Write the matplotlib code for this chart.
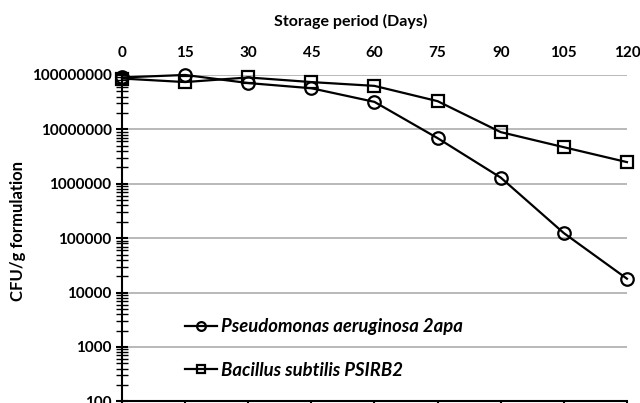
import matplotlib
matplotlib.use("Agg")
import matplotlib.pyplot as plt
import matplotlib.ticker as ticker

plt.rcParams['font.family'] = ['Lato', 'DejaVu Sans']

# storage period (days) and CFU counts
days = [0, 15, 30, 45, 60, 75, 90, 105, 120]
pseudomonas = [9.0e7, 1.0e8, 7.1e7, 5.7e7, 3.2e7, 6.9e6, 1.3e6, 1.24e5, 1.8e4]
bacillus = [8.6e7, 7.4e7, 9.0e7, 7.4e7, 6.3e7, 3.3e7, 8.9e6, 4.7e6, 2.5e6]
series_names = ["Pseudomonas aeruginosa 2apa", "Bacillus subtilis PSIRB2"]
x_ticks = [0, 15, 30, 45, 60, 75, 90, 105, 120]
y_ticks = [1e2, 1e3, 1e4, 1e5, 1e6, 1e7, 1e8]

fig = plt.figure(figsize=(6.4, 4.03), dpi=100)
ax = fig.add_axes([0.1906, 0.004, 0.789, 0.810])

#gray horizontal gridlines at each decade
ax.set_yscale('log')
ax.set_ylim(100, 1e8)
ax.set_xlim(0, 120)
ax.yaxis.grid(True, which='major', color='#a6a6a6', linewidth=1.1)
ax.set_axisbelow(True)

ax.plot(days, pseudomonas, color='black', linewidth=1.6, marker='o', markersize=9,
        markerfacecolor='none', markeredgewidth=1.6, label=series_names[0], clip_on=False, zorder=3)
ax.plot(days, bacillus, color='black', linewidth=1.6, marker='s', markersize=9,
        markerfacecolor='none', markeredgewidth=1.6, label=series_names[1], clip_on=False, zorder=3)

#y axis with plain integer labels
ax.set_yticks(y_ticks)
ax.yaxis.set_major_formatter(ticker.FuncFormatter(lambda v, p: '%d' % round(v)))
ax.yaxis.set_minor_locator(ticker.LogLocator(base=10, subs=range(2, 10)))
ax.yaxis.set_minor_formatter(ticker.NullFormatter())
ax.tick_params(axis='y', which='major', direction='inout', length=9, width=1.5, pad=3,
               labelsize=11, colors='black')
ax.tick_params(axis='y', which='minor', direction='inout', length=8, width=1.0)
for lab in ax.get_yticklabels():
    lab.set_fontweight('bold')

#x tick labels on top, bottom spine keeps the tick marks
ax.set_xticks(x_ticks)
ax.tick_params(axis='x', which='both', bottom=True, top=False, labelbottom=False, labeltop=True,
               direction='out', length=8, width=1.5, pad=3, labelsize=11)
for lab in ax.get_xticklabels():
    lab.set_fontweight('bold')

ax.spines['top'].set_visible(False)
ax.spines['right'].set_visible(False)
ax.spines['left'].set_linewidth(1.5)
ax.spines['bottom'].set_linewidth(1.5)

fig.text(351 / 640, 1 - 21 / 403, "Storage period (Days)", ha='center', va='center',
         fontsize=11.5, fontweight='bold')
fig.text(18 / 640, 1 - 231 / 403, "CFU/g formulation", ha='center', va='center',
         rotation=90, fontsize=12, fontweight='bold')

leg = ax.legend(loc='upper left', bbox_to_anchor=(185 / 640, 1 - 318 / 403),
                bbox_transform=fig.transFigure, frameon=False, borderpad=0, borderaxespad=0,
                handlelength=1.75, handletextpad=0.2, labelspacing=1.45, markerscale=0.7,
                prop={'size': 13.3, 'weight': 'bold', 'style': 'italic'})

fig.savefig("out.png", dpi=100)
